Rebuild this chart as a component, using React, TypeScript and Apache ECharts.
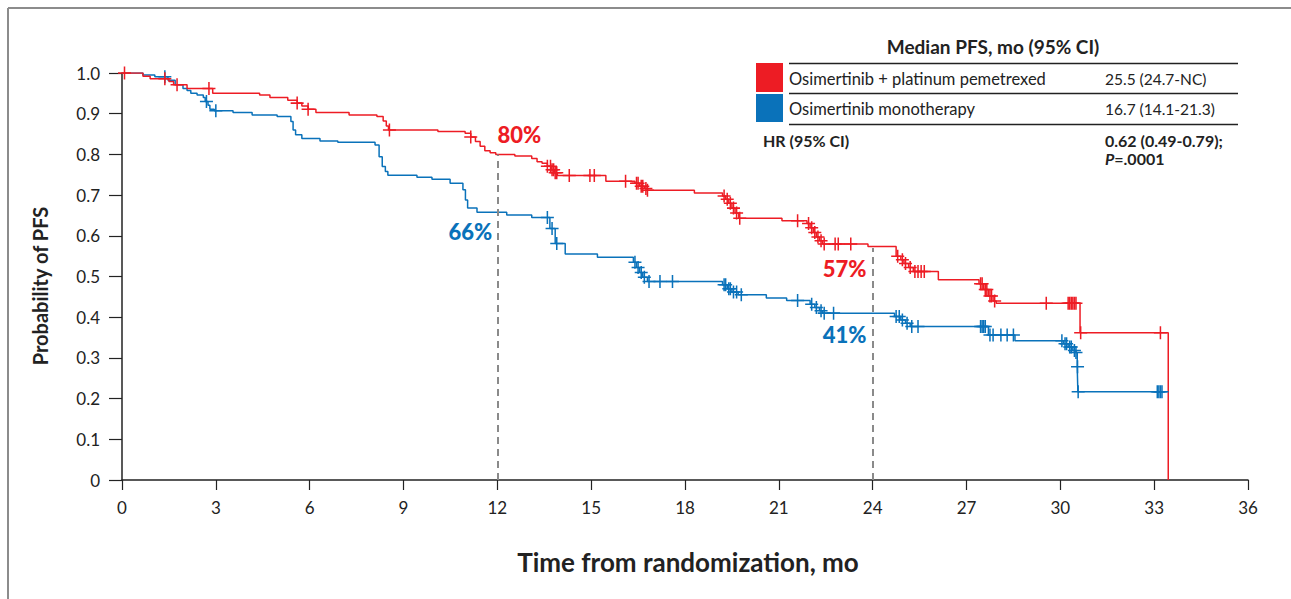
import React, { useEffect, useRef } from "react";
import * as echarts from "echarts";

const RED = "#ED1C24";
const BLUE = "#0A72BA";
const FONT = "Lato, 'Noto Sans', sans-serif";

// Kaplan-Meier steps: [month, probability] (value holds from that month on)
const redCurve: [number, number][] = [
  [0, 1.0], [0.67, 0.992], [0.9, 0.986], [1.5, 0.979], [1.65, 0.971], [2.08, 0.962],
  [2.9, 0.95], [4.4, 0.946], [4.73, 0.94], [5.3, 0.933], [5.6, 0.926], [5.75, 0.919],
  [5.95, 0.911], [6.2, 0.903], [7.26, 0.897], [8.15, 0.893], [8.35, 0.882], [8.45, 0.87],
  [8.52, 0.86], [10.1, 0.856], [10.97, 0.852], [11.15, 0.843], [11.3, 0.832], [11.45, 0.82],
  [11.6, 0.809], [11.77, 0.804], [11.95, 0.8], [12.56, 0.796], [13.1, 0.79], [13.27, 0.782],
  [13.43, 0.778], [13.6, 0.771], [13.72, 0.762], [13.82, 0.755], [13.92, 0.748], [15.47, 0.734],
  [16.4, 0.729], [16.55, 0.722], [16.7, 0.716], [16.8, 0.712], [18.3, 0.705], [19.2, 0.698],
  [19.3, 0.69], [19.4, 0.68], [19.5, 0.668], [19.6, 0.656], [19.72, 0.643], [21.1, 0.637],
  [21.9, 0.63], [22.0, 0.62], [22.1, 0.608], [22.2, 0.597], [22.3, 0.588], [22.4, 0.58],
  [23.85, 0.574], [24.75, 0.55], [24.9, 0.541], [25.0, 0.532], [25.15, 0.522], [25.3, 0.512],
  [26.1, 0.492], [27.4, 0.482], [27.55, 0.468], [27.7, 0.452], [27.85, 0.44], [27.95, 0.434],
  [30.63, 0.362], [33.45, 0.0],
];

const blueCurve: [number, number][] = [
  [0, 1.0], [0.67, 0.995], [1.05, 0.991], [1.47, 0.982], [1.7, 0.971], [1.95, 0.962],
  [2.08, 0.957], [2.2, 0.95], [2.4, 0.946], [2.6, 0.94], [2.66, 0.93], [2.75, 0.921],
  [2.81, 0.911], [2.95, 0.907], [3.55, 0.903], [4.16, 0.897], [4.96, 0.893], [5.4, 0.881],
  [5.47, 0.86], [5.55, 0.848], [5.75, 0.839], [6.33, 0.833], [6.9, 0.83], [8.09, 0.823],
  [8.22, 0.794], [8.32, 0.77], [8.42, 0.758], [8.5, 0.749], [9.43, 0.744], [9.91, 0.739],
  [10.49, 0.729], [10.9, 0.713], [10.98, 0.688], [11.05, 0.668], [11.35, 0.658], [12.3, 0.651],
  [13.1, 0.645], [13.68, 0.618], [13.85, 0.581], [14.17, 0.555], [15.2, 0.547], [16.35, 0.535],
  [16.45, 0.522], [16.55, 0.51], [16.65, 0.498], [16.8, 0.488], [19.2, 0.48], [19.35, 0.47],
  [19.5, 0.462], [19.7, 0.455], [20.6, 0.447], [21.25, 0.441], [22.0, 0.432], [22.15, 0.424],
  [22.3, 0.416], [22.4, 0.41], [24.7, 0.402], [24.9, 0.393], [25.05, 0.385], [25.2, 0.377],
  [27.7, 0.356], [28.55, 0.342], [30.1, 0.335], [30.25, 0.327], [30.4, 0.318], [30.5, 0.313],
  [30.54, 0.278], [30.56, 0.217], [33.35, 0.217],
];

// censoring times (months)
const redCensored = [
  0.08, 1.37, 1.76, 2.78, 5.6, 5.95, 8.55, 11.15, 13.6, 13.7, 13.75, 13.8, 13.85, 13.9, 14.3,
  14.96, 15.1, 16.1, 16.45, 16.5, 16.6, 16.65, 16.75, 16.8, 19.25, 19.35, 19.45, 19.55, 19.65,
  19.75, 21.6, 21.95, 22.05, 22.15, 22.25, 22.35, 22.45, 22.8, 22.9, 23.3, 24.8, 24.95, 25.05,
  25.2, 25.35, 25.45, 25.55, 25.65, 27.45, 27.5, 27.6, 27.65, 27.75, 27.8, 27.9, 29.55, 30.25,
  30.3, 30.35, 30.4, 30.45, 30.5, 30.65, 33.2,
];
const blueCensored = [
  1.37, 2.7, 3.0, 13.6, 13.75, 13.9, 16.4, 16.5, 16.6, 16.7, 16.85, 17.2, 17.6, 19.25, 19.3,
  19.4, 19.45, 19.55, 19.65, 19.8, 21.6, 22.05, 22.2, 22.35, 22.45, 22.75, 24.75, 24.85, 24.95,
  25.1, 25.25, 25.45, 27.45, 27.5, 27.55, 27.6, 27.75, 27.85, 28.1, 28.3, 28.5, 30.05, 30.15,
  30.2, 30.3, 30.35, 30.45, 30.5, 30.55, 30.57, 33.1, 33.15, 33.2, 33.25,
];

const landmarkMonths = [12, 24];
const redLandmarkPct = [80, 57];
const blueLandmarkPct = [66, 41];

const xTicks = [0, 36, 3]; // min, max, interval
const yTickLabels = ["0", "0.1", "0.2", "0.3", "0.4", "0.5", "0.6", "0.7", "0.8", "0.9", "1.0"];

const armNames = ["Osimertinib + platinum pemetrexed", "Osimertinib monotherapy"];
const armMedians = ["25.5 (24.7-NC)", "16.7 (14.1-21.3)"];

function survAt(curve: [number, number][], t: number) {
  let s = curve[0][1];
  for (const [tt, v] of curve) {
    if (tt <= t) s = v;
    else break;
  }
  return s;
}

const PLUS =
  "path://M5.3,0 H6.7 V5.3 H12 V6.7 H6.7 V12 H5.3 V6.7 H0 V5.3 H5.3 Z";

// label offsets (px) for the landmark percentages
const redLabelOffsets = [[22, -20], [-28, 20]];
const blueLabelOffsets = [[-27, 20], [-28, 21]];

export default function App() {
  const ref = useRef<HTMLDivElement>(null);
  useEffect(() => {
    if (!ref.current) return;
    const chart = echarts.init(ref.current, undefined, { renderer: "svg" });

    const pctLabel = (color: string) => ({
      show: true,
      position: "inside" as const,
      color,
      opacity: 1,
      textBorderWidth: 0,
      fontFamily: FONT,
      fontWeight: 900 as const,
      fontSize: 22,
      formatter: (p: any) => p.value[2] + "%",
    });

    const option: any = {
      animation: false,
      backgroundColor: "#fff",
      grid: { left: 122, right: 43, top: 73, bottom: 119, containLabel: false },
      xAxis: {
        type: "value",
        min: xTicks[0],
        max: xTicks[1],
        interval: xTicks[2],
        axisLine: { show: true, onZero: false, lineStyle: { color: "#222", width: 1.5 } },
        axisTick: { show: true, length: 10, lineStyle: { color: "#222", width: 1.2 } },
        axisLabel: { color: "#222", fontSize: 17, fontFamily: FONT, margin: 19 },
        splitLine: { show: false },
      },
      yAxis: {
        type: "value",
        min: 0,
        max: 1,
        interval: 0.1,
        axisLine: { show: true, lineStyle: { color: "#222", width: 1.5 } },
        axisTick: { show: true, length: 13, lineStyle: { color: "#222", width: 1.2 } },
        axisLabel: {
          color: "#222",
          fontSize: 17,
          fontFamily: FONT,
          margin: 22,
          formatter: (v: number) => yTickLabels[Math.round(v * 10)],
        },
        splitLine: { show: false },
      },
      series: [
        {
          name: armNames[1],
          type: "line",
          step: "end",
          data: blueCurve,
          symbol: "none",
          lineStyle: { color: BLUE, width: 1.5 },
          z: 2,
        },
        {
          name: armNames[0],
          type: "line",
          step: "end",
          data: redCurve,
          symbol: "none",
          lineStyle: { color: RED, width: 1.5 },
          z: 3,
          markLine: {
            silent: true,
            symbol: "none",
            label: { show: false },
            lineStyle: { color: "#8a8a8a", type: [7, 5], width: 2 },
            data: landmarkMonths.map((m, i) => [
              { coord: [m, 0] },
              { coord: [m, redLandmarkPct[i] / 100] },
            ]),
          },
        },
        {
          type: "scatter",
          data: blueCensored.map((t) => [t, survAt(blueCurve, t)]),
          symbol: PLUS,
          symbolSize: 13,
          itemStyle: { color: BLUE, opacity: 1 },
          z: 4,
        },
        {
          type: "scatter",
          data: redCensored.map((t) => [t, survAt(redCurve, t)]),
          symbol: PLUS,
          symbolSize: 13,
          itemStyle: { color: RED, opacity: 1 },
          z: 5,
        },
        {
          type: "scatter",
          symbolSize: 0,
          silent: true,
          itemStyle: { opacity: 1, color: RED },
          data: landmarkMonths.map((m, i) => ({
            value: [m, redLandmarkPct[i] / 100, redLandmarkPct[i]],
            label: { offset: redLabelOffsets[i] },
          })),
          label: pctLabel(RED),
          z: 6,
        },
        {
          type: "scatter",
          symbolSize: 0,
          silent: true,
          itemStyle: { opacity: 1, color: BLUE },
          data: landmarkMonths.map((m, i) => ({
            value: [m, blueLandmarkPct[i] / 100, blueLandmarkPct[i]],
            label: { offset: blueLabelOffsets[i] },
          })),
          label: pctLabel(BLUE),
          z: 6,
        },
      ],
      graphic: [
        // frame
        { type: "line", shape: { x1: 8, y1: 8, x2: 1291, y2: 8 }, style: { stroke: "#8c8c8c", lineWidth: 2 } },
        { type: "line", shape: { x1: 8, y1: 8, x2: 8, y2: 599 }, style: { stroke: "#8c8c8c", lineWidth: 2 } },
        // axis titles
        {
          type: "text",
          x: 688,
          y: 562,
          style: {
            text: "Time from randomization, mo",
            fill: "#222",
            font: `bold 26px ${FONT}`,
            align: "center",
            verticalAlign: "middle",
          },
        },
        {
          type: "text",
          x: 40,
          y: 286,
          rotation: Math.PI / 2,
          style: {
            text: "Probability of PFS",
            fill: "#222",
            font: `bold 20px ${FONT}`,
            align: "center",
            verticalAlign: "middle",
          },
        },
        // median table
        {
          type: "text",
          x: 993,
          y: 46,
          style: {
            text: "Median PFS, mo (95% CI)",
            fill: "#222",
            font: `bold 19px ${FONT}`,
            align: "center",
            verticalAlign: "middle",
          },
        },
        { type: "line", shape: { x1: 789, y1: 63.5, x2: 1238, y2: 63.5 }, style: { stroke: "#222", lineWidth: 1.3 } },
        { type: "line", shape: { x1: 789, y1: 93.5, x2: 1238, y2: 93.5 }, style: { stroke: "#222", lineWidth: 1.3 } },
        { type: "line", shape: { x1: 789, y1: 124.5, x2: 1238, y2: 124.5 }, style: { stroke: "#222", lineWidth: 1.3 } },
        { type: "rect", shape: { x: 756, y: 63, width: 27, height: 29 }, style: { fill: RED } },
        { type: "rect", shape: { x: 756, y: 94, width: 27, height: 28 }, style: { fill: BLUE } },
        {
          type: "text", x: 789, y: 79,
          style: { text: armNames[0], fill: "#222", font: `16.5px ${FONT}`, verticalAlign: "middle" },
        },
        {
          type: "text", x: 1105, y: 79,
          style: { text: armMedians[0], fill: "#222", font: `15.5px ${FONT}`, verticalAlign: "middle" },
        },
        {
          type: "text", x: 789, y: 109,
          style: { text: armNames[1], fill: "#222", font: `16.5px ${FONT}`, verticalAlign: "middle" },
        },
        {
          type: "text", x: 1105, y: 109,
          style: { text: armMedians[1], fill: "#222", font: `15.5px ${FONT}`, verticalAlign: "middle" },
        },
        {
          type: "text", x: 763, y: 140,
          style: { text: "HR (95% CI)", fill: "#222", font: `bold 16px ${FONT}`, verticalAlign: "middle" },
        },
        {
          type: "text", x: 1105, y: 140,
          style: { text: "0.62 (0.49-0.79);", fill: "#222", font: `bold 16px ${FONT}`, verticalAlign: "middle" },
        },
        {
          type: "text", x: 1105, y: 158,
          style: {
            text: "{i|P}{b|=.0001}",
            verticalAlign: "middle",
            rich: {
              i: { fill: "#222", font: `italic bold 16px ${FONT}` },
              b: { fill: "#222", font: `bold 16px ${FONT}` },
            },
          },
        },
      ],
    };
    chart.setOption(option);
    return () => chart.dispose();
  }, []);
  return (
    <div
      ref={ref}
      style={{ position: "fixed", left: 0, top: 0, width: 1291, height: 599, background: "#fff" }}
    />
  );
}
